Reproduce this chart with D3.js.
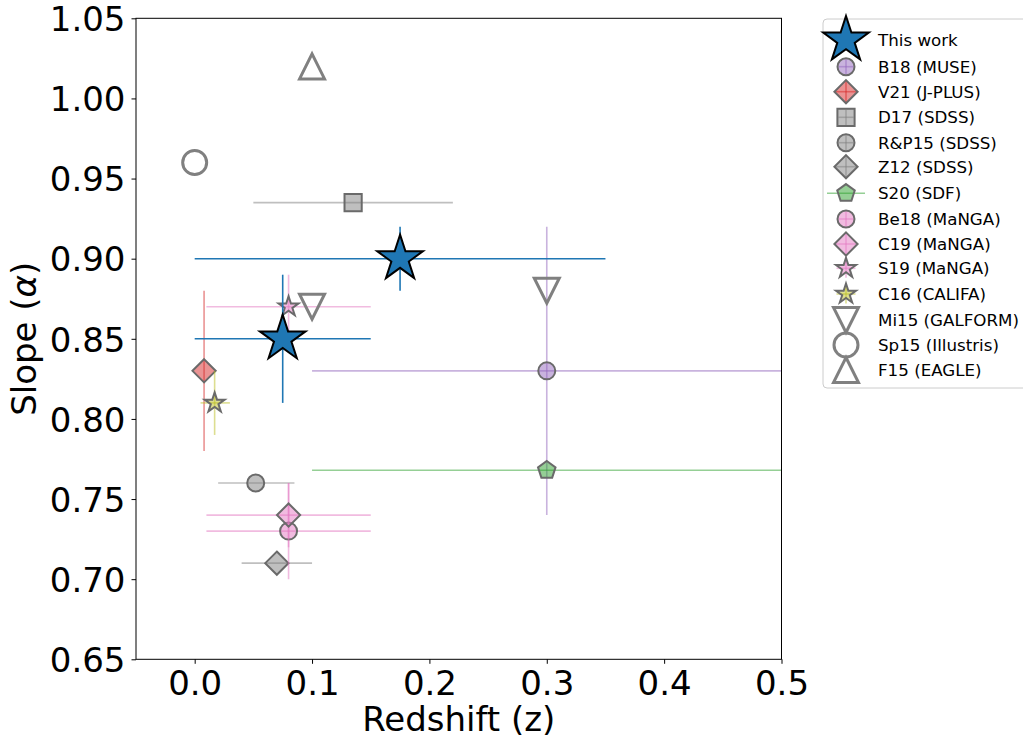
<!DOCTYPE html>
<html><head><meta charset="utf-8">
<script src="https://cdn.jsdelivr.net/npm/d3@7"></script>
<style>body{margin:0;background:#fff}text{font-family:"DejaVu Sans",sans-serif}</style>
</head><body><svg id="c" width="1023" height="740"></svg>
<script>
// ---------- data ----------
const seriesNames = ["This work","B18 (MUSE)","V21 (J-PLUS)","D17 (SDSS)","R&P15 (SDSS)","Z12 (SDSS)","S20 (SDF)","Be18 (MaNGA)","C19 (MaNGA)","S19 (MaNGA)","C16 (CALIFA)","Mi15 (GALFORM)","Sp15 (Illustris)","F15 (EAGLE)"];
const zVals      = [[0.075,0.175],[0.3],[0.008],[0.135],[0.052],[0.07],[0.3],[0.08],[0.08],[0.08],[0.017],[0.1,0.3],[0.0],[0.1]];
const slopeVals  = [[0.85,0.90],[0.83],[0.83],[0.935],[0.76],[0.71],[0.768],[0.73],[0.74],[0.87],[0.81],[0.87,0.88],[0.96],[1.02]];
const zLow       = [[0.0,0.0],[0.1],[null],[0.05],[0.02],[0.04],[0.1],[0.01],[0.01],[0.01],[0.005],[null,null],[null],[null]];
const zHigh      = [[0.15,0.35],[0.6],[null],[0.22],[0.085],[0.1],[0.6],[0.15],[0.15],[0.15],[0.03],[null,null],[null],[null]];
const slopeLow   = [[0.81,0.88],[0.74],[0.78],[null],[null],[null],[null],[0.70],[0.72],[0.85],[0.79],[null,null],[null],[null]];
const slopeHigh  = [[0.89,0.92],[0.92],[0.88],[null],[null],[null],[null],[0.76],[0.76],[0.89],[0.83],[null,null],[null],[null]];
const xTicks = [0.0,0.1,0.2,0.3,0.4,0.5];
const yTicks = [0.65,0.70,0.75,0.80,0.85,0.90,0.95,1.00,1.05];
const xDomain = [-0.05,0.5];
const yDomain = [0.65,1.05];
const xLabel = "Redshift (z)";
const yLabelParts = ["Slope (", "α", ")"];

// ---------- styles ----------
const styles = [
  {shape:"star",r:24,fill:"#1f77b4",fo:1,stroke:"#000",sw:2,bar:"#1f77b4",bo:1,cross:"none"},
  {shape:"circle",r:8.5,fill:"#9467bd",fo:0.5,stroke:"#6a6a6a",sw:2,bar:"#9467bd",bo:0.5,cross:"both"},
  {shape:"diamond",r:11.6,fill:"#d62728",fo:0.5,stroke:"#6a6a6a",sw:2,bar:"#d62728",bo:0.5,cross:"both"},
  {shape:"square",r:8.6,fill:"#7f7f7f",fo:0.5,stroke:"#6a6a6a",sw:2,bar:"#7f7f7f",bo:0.5,cross:"both"},
  {shape:"circle",r:8.5,fill:"#7f7f7f",fo:0.5,stroke:"#6a6a6a",sw:2,bar:"#7f7f7f",bo:0.5,cross:"both"},
  {shape:"diamond",r:11.6,fill:"#7f7f7f",fo:0.5,stroke:"#6a6a6a",sw:2,bar:"#7f7f7f",bo:0.5,cross:"both"},
  {shape:"pentagon",r:9.2,fill:"#2ca02c",fo:0.5,stroke:"#6a6a6a",sw:2,bar:"#2ca02c",bo:0.5,cross:"long"},
  {shape:"circle",r:8.5,fill:"#e377c2",fo:0.5,stroke:"#6a6a6a",sw:2,bar:"#e377c2",bo:0.5,cross:"both"},
  {shape:"diamond",r:11.6,fill:"#e377c2",fo:0.5,stroke:"#6a6a6a",sw:2,bar:"#e377c2",bo:0.5,cross:"both"},
  {shape:"star",r:10.5,fill:"#e377c2",fo:0.5,stroke:"#6a6a6a",sw:2,bar:"#e377c2",bo:0.5,cross:"both"},
  {shape:"star",r:10.5,fill:"#bcbd22",fo:0.5,stroke:"#6a6a6a",sw:2,bar:"#bcbd22",bo:0.5,cross:"both"},
  {shape:"triDown",r:12.5,fill:"none",fo:0,stroke:"#808080",sw:3,bar:"#808080",bo:1,cross:"none"},
  {shape:"circle",r:12,fill:"none",fo:0,stroke:"#808080",sw:3,bar:"#808080",bo:1,cross:"none"},
  {shape:"triUp",r:12.5,fill:"none",fo:0,stroke:"#808080",sw:3,bar:"#808080",bo:1,cross:"none"}
];
const drawOrder = [1,2,3,4,5,6,7,8,9,10,11,12,13,0];

function shapePath(shape, r) {
  const pts = [];
  switch (shape) {
    case "circle": return `M${r},0A${r},${r} 0 1,1 ${-r},0A${r},${r} 0 1,1 ${r},0Z`;
    case "square": return `M${-r},${-r}H${r}V${r}H${-r}Z`;
    case "diamond": return `M0,${-r}L${r},0L0,${r}L${-r},0Z`;
    case "triUp": return `M0,${-r}L${r},${r}L${-r},${r}Z`;
    case "triDown": return `M0,${r}L${r},${-r}L${-r},${-r}Z`;
    case "pentagon":
      for (let k=0;k<5;k++){const a=-Math.PI/2+k*2*Math.PI/5;pts.push([r*Math.cos(a),r*Math.sin(a)]);}
      return "M"+pts.map(p=>p.join(",")).join("L")+"Z";
    case "star":
      for (let k=0;k<10;k++){const a=-Math.PI/2+k*Math.PI/5;const rr=k%2?r*0.381966:r;pts.push([rr*Math.cos(a),rr*Math.sin(a)]);}
      return "M"+pts.map(p=>p.join(",")).join("L")+"Z";
  }
}

const svg = d3.select("#c");
const x = d3.scaleLinear().domain(xDomain).range([136, 781.5]);
const y = d3.scaleLinear().domain(yDomain).range([659.3, 18.3]);

svg.append("defs").append("clipPath").attr("id","plotclip")
  .append("rect").attr("x",136).attr("y",18.3).attr("width",781.5-136).attr("height",659.3-18.3);

const plot = svg.append("g").attr("clip-path","url(#plotclip)");

drawOrder.forEach(i => {
  const st = styles[i];
  const g = plot.append("g");
  zVals[i].forEach((zv, j) => {
    const sv = slopeVals[i][j];
    if (zLow[i][j] != null) {
      g.append("line").attr("x1",x(zLow[i][j])).attr("x2",x(zHigh[i][j]))
        .attr("y1",y(sv)).attr("y2",y(sv))
        .attr("stroke",st.bar).attr("stroke-opacity",st.bo).attr("stroke-width",1.6);
    }
    if (slopeLow[i][j] != null) {
      g.append("line").attr("x1",x(zv)).attr("x2",x(zv))
        .attr("y1",y(slopeLow[i][j])).attr("y2",y(slopeHigh[i][j]))
        .attr("stroke",st.bar).attr("stroke-opacity",st.bo).attr("stroke-width",1.6);
    }
  });
  zVals[i].forEach((zv, j) => {
    const sv = slopeVals[i][j];
    g.append("path").attr("d",shapePath(st.shape, st.r))
      .attr("transform",`translate(${x(zv)},${y(sv)})`)
      .attr("fill",st.fill).attr("fill-opacity",st.fo)
      .attr("stroke",st.stroke).attr("stroke-width",st.sw).attr("stroke-linejoin","miter");
  });
});

// axes frame
svg.append("rect").attr("x",136).attr("y",18.3).attr("width",781.5-136).attr("height",659.3-18.3)
  .attr("fill","none").attr("stroke","#000").attr("stroke-width",1);

const xAxis = d3.axisBottom(x).tickValues(xTicks).tickFormat(d3.format(".1f")).tickSize(4.5).tickPadding(6);
const yAxis = d3.axisLeft(y).tickValues(yTicks).tickFormat(d3.format(".2f")).tickSize(4.5).tickPadding(6);
const gx = svg.append("g").attr("transform","translate(0,659.3)").call(xAxis);
const gy = svg.append("g").attr("transform","translate(136,0)").call(yAxis);
[gx,gy].forEach(g=>{
  g.select(".domain").remove();
  g.selectAll("text").attr("font-family","DejaVu Sans").attr("font-size",34).attr("fill","#000");
  g.selectAll("line").attr("stroke","#000");
});
gx.selectAll("text").attr("dy","0.73em");
gy.selectAll("text").attr("dy","0.36em");

svg.append("text").attr("x",(136+781.5)/2).attr("y",731).attr("text-anchor","middle")
  .attr("font-size",34).text(xLabel);
const yl = svg.append("text").attr("transform",`translate(36,${(18.3+659.3)/2}) rotate(-90)`).attr("text-anchor","middle")
  .attr("font-size",34);
yl.append("tspan").text(yLabelParts[0]);
yl.append("tspan").attr("font-style","italic").text(yLabelParts[1]);
yl.append("tspan").text(yLabelParts[2]);

// legend
const leg = svg.append("g");
leg.append("rect").attr("x",823).attr("y",19).attr("width",240).attr("height",369).attr("rx",4)
  .attr("fill","#fff").attr("fill-opacity",0.8).attr("stroke","#cccccc").attr("stroke-width",1);
const legY = [40,66.7,91.7,117.3,142.7,166.7,193.3,219,244,268.3,294,320,345,370];
const legMX = 846, legTX = 878;
seriesNames.forEach((name,i)=>{
  const st = styles[i];
  const gy0 = legY[i];
  const g = leg.append("g").attr("transform",`translate(${legMX},${gy0})`);
  if (st.cross === "both") {
    const h = st.r - 1;
    g.append("line").attr("x1",-h).attr("x2",h).attr("y1",0).attr("y2",0).attr("stroke",st.bar).attr("stroke-opacity",st.bo).attr("stroke-width",1.6);
    g.append("line").attr("x1",0).attr("x2",0).attr("y1",-h).attr("y2",h).attr("stroke",st.bar).attr("stroke-opacity",st.bo).attr("stroke-width",1.6);
  } else if (st.cross === "long") {
    g.append("line").attr("x1",-19).attr("x2",19).attr("y1",0).attr("y2",0).attr("stroke",st.bar).attr("stroke-opacity",st.bo).attr("stroke-width",1.6);
  }
  g.append("path").attr("d",shapePath(st.shape, st.r))
    .attr("fill",st.fill).attr("fill-opacity",st.fo)
    .attr("stroke",st.stroke).attr("stroke-width",st.sw);
  leg.append("text").attr("x",legTX).attr("y",gy0).attr("dy","0.36em")
    .attr("font-size",16.7).attr("fill","#000").text(name);
});
</script>
</body></html>
